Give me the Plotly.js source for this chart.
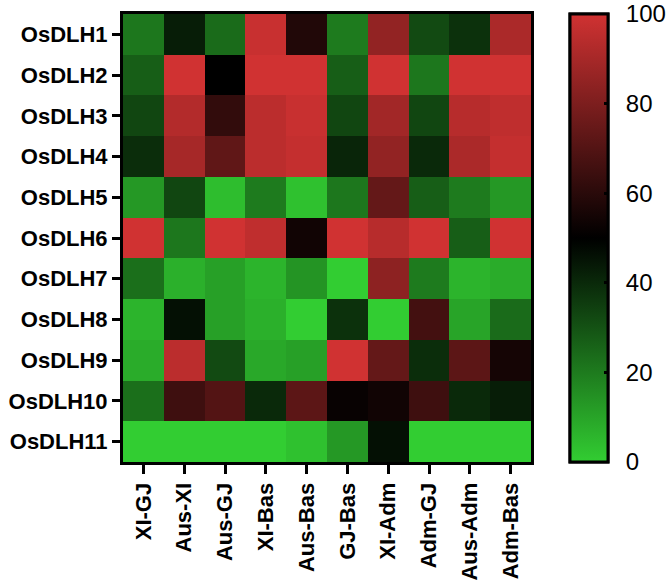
<!DOCTYPE html>
<html>
<head>
<meta charset="utf-8">
<script src="https://cdn.plot.ly/plotly-3.0.1.min.js"></script>
<style>
  html, body { margin: 0; padding: 0; background: #fff; }
  #chart { width: 668px; height: 588px; }
</style>
</head>
<body>
<div id="chart"></div>
<script>
const comparisons = ["XI-GJ", "Aus-XI", "Aus-GJ", "XI-Bas", "Aus-Bas", "GJ-Bas", "XI-Adm", "Adm-GJ", "Aus-Adm", "Adm-Bas"];
const genes = ["OsDLH1", "OsDLH2", "OsDLH3", "OsDLH4", "OsDLH5", "OsDLH6", "OsDLH7", "OsDLH8", "OsDLH9", "OsDLH10", "OsDLH11"];

const OsDLH1  = [21, 43, 24, 98, 58, 20, 85, 32, 38, 91];
const OsDLH2  = [27, 100, 50, 100, 100, 27, 100, 21, 100, 100];
const OsDLH3  = [33, 93, 62, 95, 98, 33, 89, 33, 94, 96];
const OsDLH4  = [39, 90, 73, 95, 97, 41, 85, 40, 91, 97];
const OsDLH5  = [13, 33, 4, 20, 3, 21, 74, 27, 20, 13];
const OsDLH6  = [100, 21, 100, 96, 54, 100, 94, 100, 27, 100];
const OsDLH7  = [23, 7, 11, 6, 14, 0, 84, 20, 6, 8];
const OsDLH8  = [6, 46, 11, 7, 0, 38, 0, 66, 10, 24];
const OsDLH9  = [8, 95, 32, 9, 11, 100, 74, 39, 72, 55];
const OsDLH10 = [23, 65, 70, 40, 72, 52, 54, 65, 40, 43];
const OsDLH11 = [0, 0, 0, 0, 3, 13, 46, 0, 0, 0];

const colorTicks = [0, 20, 40, 60, 80, 100];

const z = [OsDLH1, OsDLH2, OsDLH3, OsDLH4, OsDLH5, OsDLH6, OsDLH7, OsDLH8, OsDLH9, OsDLH10, OsDLH11];

const FONT = "Liberation Sans, Arial, Helvetica, sans-serif";
const SCALE = [[0, "rgb(50,205,50)"], [0.5, "rgb(0,0,0)"], [1, "rgb(208,50,50)"]];

const cbBase = {
  x: 1.0957,
  xanchor: "left",
  xref: "paper",
  y: 0.5,
  yanchor: "middle",
  len: 1.0,
  lenmode: "fraction",
  thickness: 38,
  thicknessmode: "pixels",
  outlinewidth: 3,
  outlinecolor: "#000",
  tickmode: "array",
  tickvals: colorTicks,
  ticktext: colorTicks.map(String),
  tickfont: { family: FONT, size: 24, color: "#000" },
  xpad: 0,
  ypad: 0
};

// Trace carrying the labelled colour bar (labels pushed out by transparent ticks)
const traceLabels = {
  type: "heatmap",
  x: comparisons,
  y: genes,
  z: z,
  zmin: 0,
  zmax: 100,
  colorscale: SCALE,
  hoverinfo: "skip",
  colorbar: Object.assign({}, cbBase, {
    ticks: "outside",
    ticklen: 12,
    tickwidth: 1,
    tickcolor: "rgba(0,0,0,0)",
    showticklabels: true
  })
};

// Same data drawn on top; its colour bar shows the short inward ticks
const traceMain = {
  type: "heatmap",
  x: comparisons,
  y: genes,
  z: z,
  zmin: 0,
  zmax: 100,
  colorscale: SCALE,
  hoverinfo: "x+y+z",
  colorbar: Object.assign({}, cbBase, {
    ticks: "inside",
    ticklen: 5,
    tickwidth: 2.5,
    tickcolor: "#000",
    showticklabels: false
  })
};

const layout = {
  width: 668,
  height: 588,
  margin: { l: 123, r: 137, t: 14, b: 126, autoexpand: false },
  paper_bgcolor: "#fff",
  plot_bgcolor: "#fff",
  font: { family: FONT, color: "#000" },
  xaxis: {
    type: "category",
    tickangle: -90,
    ticks: "outside",
    ticklen: 9,
    tickwidth: 2.5,
    tickcolor: "#000",
    showline: true,
    mirror: true,
    linewidth: 3,
    linecolor: "#000",
    showgrid: false,
    zeroline: false,
    tickfont: { family: FONT, size: 22, color: "#000", weight: 700 }
  },
  yaxis: {
    type: "category",
    autorange: "reversed",
    ticks: "outside",
    ticklen: 8,
    tickwidth: 2.5,
    tickcolor: "#000",
    showline: true,
    mirror: true,
    linewidth: 3,
    linecolor: "#000",
    showgrid: false,
    zeroline: false,
    tickfont: { family: FONT, size: 22, color: "#000", weight: 700 }
  }
};

Plotly.newPlot("chart", [traceLabels, traceMain], layout, { displayModeBar: false, responsive: false });
</script>
</body>
</html>
